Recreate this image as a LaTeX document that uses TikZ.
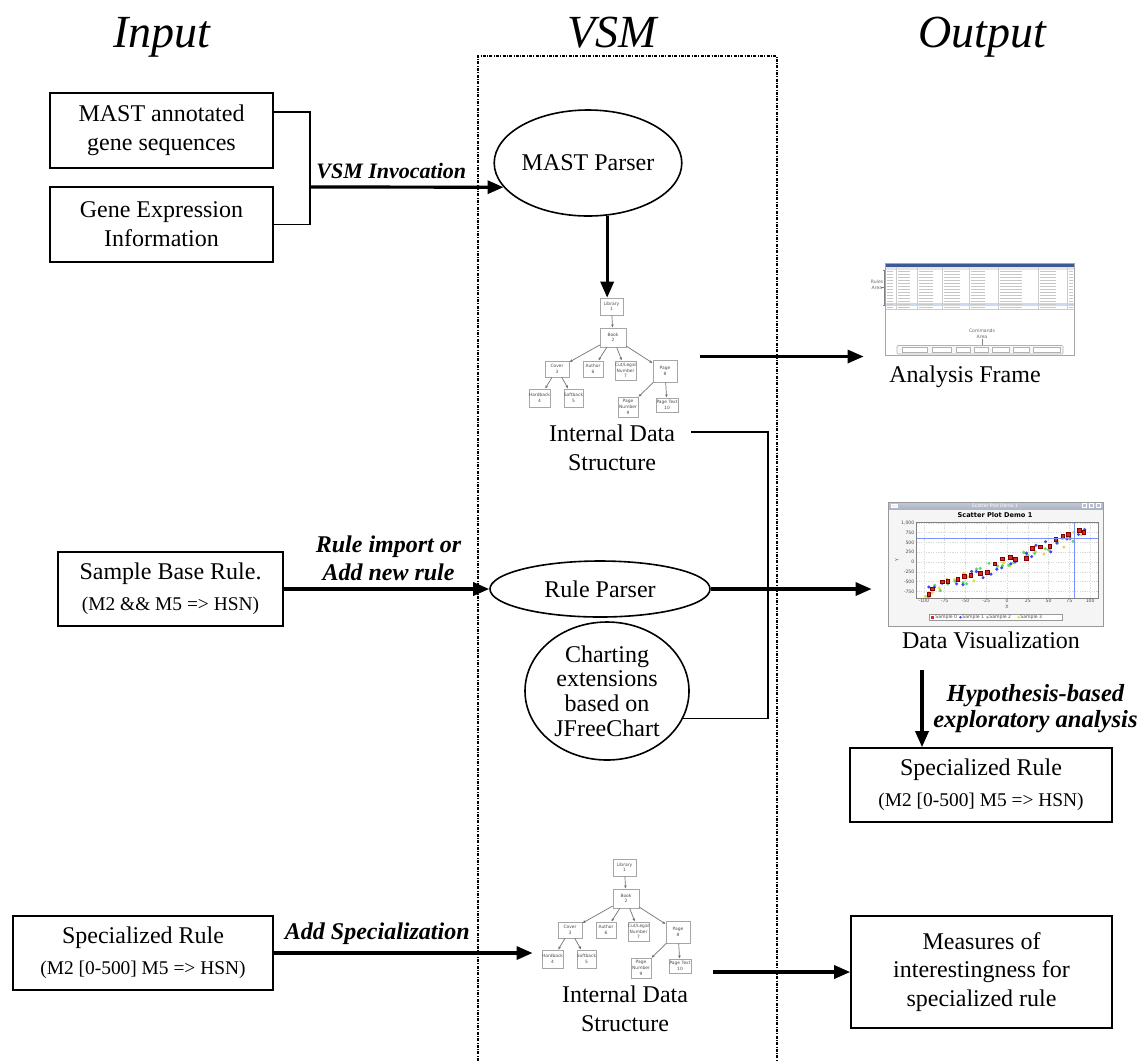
\documentclass[tikz,border=0pt]{standalone}
\usepackage{fontspec}
\setmainfont{Liberation Serif}
\newfontfamily\uifont{DejaVu Sans}
\usepackage{tikz}
\usetikzlibrary{positioning,arrows.meta,shapes.geometric,calc}
\definecolor{winbar}{HTML}{3b5998}
\definecolor{titlegray}{HTML}{a9b3c4}
\definecolor{crossblue}{HTML}{7b93ff}
\definecolor{ptred}{HTML}{d42a2a}
\definecolor{ptblue}{HTML}{3f48f0}
\definecolor{ptgreen}{HTML}{5fd85f}
\definecolor{ptyellow}{HTML}{e6d84a}
\definecolor{rowsel}{HTML}{c9daf2}
\newcommand\rulefont{\fontsize{9.7}{11}\selectfont}

\begin{document}
\begin{tikzpicture}[x=0.5pt,y=-0.5pt,
  font=\fontsize{12}{14.5}\selectfont,
  head/.style={font=\fontsize{23}{26}\selectfont\itshape,anchor=base},
  box/.style={draw,line width=0.8pt,align=center,inner sep=0pt},
  oval/.style={draw,ellipse,line width=0.8pt,align=center,inner sep=0pt},
  lbl/.style={font=\fontsize{12}{14}\selectfont\bfseries\itshape,align=center},
  arr/.style={line width=1.6pt,-{Triangle[length=8pt,width=6.5pt]}},
  link/.style={line width=0.7pt},
  img/.style={inner sep=0pt},
  tbox/.style={draw=black!35,fill=white,line width=0.3pt,inner sep=0pt,align=center,
    text=black!70,font=\uifont\fontsize{2.2}{2.8}\selectfont},
  tedge/.style={draw=black!55,line width=0.35pt,-{Latex[length=1.6pt,width=1.4pt]}},
  tiny/.style={font=\uifont\fontsize{2.3}{2.8}\selectfont,inner sep=0pt}]
\useasboundingbox (0,0) rectangle (1143,1061);

% headings and the VSM frame
\node[head] (hin) at (162,47) {Input};
\node[head] (hvsm) at (612,47) {VSM};
\node[head] (hout) at (982,47) {Output};
\draw[line width=0.6pt,dash pattern=on 1.5pt off 0.7pt on 0.4pt off 0.7pt]
  (478,1061) -- (478,56) -- (777,56) -- (777,1061);

% input side
\node[box,minimum width=111.5pt,minimum height=37.5pt] (mast) at (161.5,130.5) {MAST annotated\\gene sequences};
\node[box,minimum width=111.5pt,minimum height=37.5pt] (gexp) at (161.5,224.5) {Gene Expression\\Information};
\node[box,minimum width=112.5pt,minimum height=37pt] (sample) at (170.5,589)
  {Sample Base Rule.\\[1pt]{\rulefont (M2 \&\& M5 => HSN)}};
\node[box,minimum width=130pt,minimum height=37pt] (specL) at (143,953)
  {Specialized Rule\\[1pt]{\rulefont (M2 [0-500] M5 => HSN)}};

% VSM parts
\node[oval,minimum width=85pt,minimum height=53pt] (mastp) at (588,163) {MAST Parser};
\node[oval,minimum width=110pt,minimum height=28pt] (rulep) at (600,589) {Rule Parser};
\node[oval,minimum width=82pt,minimum height=69pt,font=\fontsize{12}{12.3}\selectfont] (chart) at (607,691)
  {Charting\\extensions\\based on\\JFreeChart};

% the two data structure trees
\foreach \t/\dx/\dy in {a/0/0,b/13/561}{
  \begin{scope}[shift={(\dx,\dy)}]
    \node[img,minimum width=90pt,minimum height=61.5pt] (tree\t) at (610,356.5) {};
    \node[tbox,minimum width=11.5pt,minimum height=8.5pt] (lib\t) at (611.5,306.5) {Library\\1};
    \node[tbox,minimum width=13pt,minimum height=9.5pt] (book\t) at (613,337.5) {Book\\2};
    \node[tbox,minimum width=12pt,minimum height=8pt] (cover\t) at (557,369) {Cover\\3};
    \node[tbox,minimum width=10pt,minimum height=8pt] (author\t) at (593,369) {Author\\6};
    \node[tbox,minimum width=10.5pt,minimum height=9.5pt] (cut\t) at (625.5,370.5) {Cut/Legal\\Number\\7};
    \node[tbox,minimum width=12pt,minimum height=11pt] (page\t) at (665,371) {Page\\8};
    \node[tbox,minimum width=10.5pt,minimum height=9pt] (hard\t) at (539.5,398) {Hardback\\4};
    \node[tbox,minimum width=9.5pt,minimum height=9pt] (soft\t) at (573.5,398) {Softback\\5};
    \node[tbox,minimum width=10pt,minimum height=10pt] (pnum\t) at (628,407) {Page\\Number\\9};
    \node[tbox,minimum width=11pt,minimum height=7pt] (ptext\t) at (667,405) {Page Text\\10};
    \draw[tedge] (lib\t) -- (book\t);
    \draw[tedge] (book\t) -- (cover\t);
    \draw[tedge] (book\t) -- (author\t);
    \draw[tedge] (book\t) -- (cut\t);
    \draw[tedge] (book\t) -- (page\t);
    \draw[tedge] (cover\t) -- (hard\t);
    \draw[tedge] (cover\t) -- (soft\t);
    \draw[tedge] (page\t) -- (pnum\t);
    \draw[tedge] (page\t) -- (ptext\t);
    \node[align=center] (ids\t) at (612,448) {Internal Data\\Structure};
  \end{scope}}

% analysis frame screenshot
\node[img,minimum width=107pt,minimum height=51pt] (afr) at (971,309) {};
\fill[white] (885,263) rectangle (1074,355);
\fill[winbar] (885,263) rectangle (1074,266.5);
\fill[black!10] (885,266.5) rectangle (1074,270);
\fill[rowsel] (885,303) rectangle (1074,306);
\foreach \r in {0,...,12}
  \foreach \c/\w in {886/6,897/12,918/14,943/16,970/14,999/22,1039/16,1068/4}
    \draw[black!22,line width=0.45pt] (\c+1,271.5+\r*3) -- ++(\w,0);
\foreach \c in {896,917,942,969,998,1038,1067}
  \draw[black!20,line width=0.2pt] (\c,266.5) -- (\c,309);
\draw[black!20,line width=0.2pt] (885,309) -- (1074,309);
\draw[black!35,line width=0.3pt] (885,263) rectangle (1074,355);
\node[tiny,align=center,text=black!60] (rarea) at (877,285) {Rules\\Area};
\draw[black!50,line width=0.2pt] (883,270) -- (884.5,270) -- (884.5,305) -- (883,305);
\draw[black!50,line width=0.2pt] (881,287) -- (884.5,287);
\node[tiny,align=center,text=black!60] (carea) at (982,334) {Commands\\Area};
\draw[black!50,line width=0.2pt] (carea.south) -- (982,345.5);
\draw[black!30,line width=0.3pt,rounded corners=0.5pt,fill=black!3] (897,345.5) rectangle (1063,354);
\foreach \a/\b in {902/927,932/951,956/970,974/988,992/1009,1013/1029,1033/1060}
  \draw[black!30,line width=0.25pt,fill=white] (\a,347) rectangle (\b,352.5);
\node (aflbl) at (965,377) {Analysis Frame};

% scatter plot screenshot
\node[img,minimum width=117pt,minimum height=66pt] (scat) at (989,564) {};
\fill[black!4] (888,502) rectangle (1103,626);
\shade[top color=titlegray!70,bottom color=titlegray] (888,502) rectangle (1103,509.5);
\node[tiny,text=white] (sbar) at (995,505.8) {Scatter Plot Demo 1};
\foreach \bx in {1082,1089,1096}
  \draw[white,line width=0.3pt] (\bx,503.5) rectangle ++(4.5,4);
\draw[white,fill=white!80!titlegray,line width=0.3pt] (891,504) rectangle (897,507.5);
\draw[black!40,line width=0.3pt] (888,502) rectangle (1103,626);
\node[font=\uifont\bfseries\fontsize{3.3}{4}\selectfont,inner sep=0pt] (stitle) at (995,515) {Scatter Plot Demo 1};
\fill[white] (916,522) rectangle (1098,598);
\begin{scope}[shift={(1007,562)},x=0.4157pt,y=0.01965pt]
  \foreach \gx in {-100,-75,...,100}
    \draw[black!15,line width=0.2pt,dash pattern=on 0.6pt off 0.6pt] (\gx,-920) -- (\gx,1010);
  \foreach \gy in {-750,-500,...,1000}
    \draw[black!15,line width=0.2pt,dash pattern=on 0.6pt off 0.6pt] (-109,\gy) -- (110,\gy);
  \pgfmathsetseed{23}
  \foreach \n in {0,...,23}{
    \pgfmathsetmacro\xv{-95+\n*8.1+rand*3}
    \pgfmathsetmacro\yv{8*\xv+rand*170}
    \fill[ptyellow] (\xv,\yv) circle (0.85pt);}
  \foreach \n in {0,...,23}{
    \pgfmathsetmacro\xv{-97+\n*8.3+rand*3}
    \pgfmathsetmacro\yv{8*\xv+rand*170}
    \fill[ptgreen] (\xv,\yv) circle (0.85pt);}
  \foreach \n in {0,...,23}{
    \pgfmathsetmacro\xv{-94+\n*8.2+rand*3}
    \pgfmathsetmacro\yv{8*\xv+rand*170}
    \fill[ptblue] (\xv,\yv) circle (0.85pt);}
  \foreach \n in {0,...,21}{
    \pgfmathsetmacro\xv{-97+\n*9.1+rand*3}
    \pgfmathsetmacro\yv{8*\xv+rand*130}
    \filldraw[fill=ptred,draw=red!50!black,line width=0.15pt] (\xv,\yv) ++(-0.9pt,-0.9pt) rectangle ++(1.8pt,1.8pt);}
  \draw[crossblue,line width=0.45pt] (80.6,-920) -- (80.6,1010);
  \draw[crossblue,line width=0.45pt] (-109,610) -- (110,610);
  \foreach \gx in {-100,-75,...,100}
    \node[tiny,text=black!70] at (\gx,-1000) {\gx};
  \foreach \gy/\gl in {1000/{1,000},750/750,500/500,250/250,0/0,-250/-250,-500/-500,-750/-750}
    \node[tiny,text=black!70,anchor=east] at (-111,\gy) {\gl};
\end{scope}
\draw[black!50,line width=0.3pt] (916,522) rectangle (1098,598);
\node[tiny,text=black!70] (xlab) at (1007,607) {X};
\node[tiny,text=black!70,rotate=90] (ylab) at (897,560) {Y};
\draw[black!40,line width=0.25pt,fill=white] (929,614) rectangle (1062,620.5);
\foreach \lx/\ls in {933/0,960/1,987/2,1018/3}
  \node[tiny,anchor=west,text=black!70] at (\lx+2,617.3) {Sample \ls};
\fill[ptred] (931.3,615.8) rectangle (933.7,618.8);
\fill[ptblue] (960.5,617.3) circle (0.7pt);
\fill[ptgreen] (987.5,617.3) circle (0.7pt);
\fill[ptyellow] (1018.5,617.3) circle (0.7pt);
\node (dvlbl) at (991,640) {Data Visualization};

% output side
\node[box,minimum width=131pt,minimum height=37pt] (specR) at (981,785)
  {Specialized Rule\\[1pt]{\rulefont (M2 [0-500] M5 => HSN)}};
\node[box,minimum width=130.5pt,minimum height=56pt,font=\fontsize{12}{14.3}\selectfont] (measures) at (981.5,972)
  {Measures of\\interestingness for\\specialized rule};

% connectors
\coordinate (join) at (310,187);
\coordinate (bend) at (768,0);
\coordinate (hyp) at (922,670);
\draw[link] ($(mast.east)+(0,-18.5)$) -| (join) |- (gexp.east);
\draw[arr] (join) -- node[lbl,above,pos=0.42,font=\fontsize{11}{13}\selectfont\bfseries\itshape] {VSM Invocation} (mastp.196.5);
\draw[arr] (mastp.-70) -- (mastp.-70 |- liba.north);
\draw[arr] (treea.east) -- (treea.east -| afr.west);
\draw[link] ($(idsa.east)+(9,-16)$) -- ($(idsa.east -| bend)+(0,-16)$) |- (chart.-20);
\draw[arr] (sample) -- node[lbl,above,pos=0.51] {Rule import or\\Add new rule} (rulep);
\draw[arr] (rulep.east) -- (rulep.east -| scat.west);
\draw[arr] (hyp) -- node[lbl,right=1.5pt,font=\fontsize{12.3}{12.8}\selectfont\bfseries\itshape]
  {Hypothesis-based\\exploratory analysis} (hyp |- specR.north);
\draw[arr] (specL.east) -- node[lbl,above,pos=0.4] {Add Specialization} (specL.east -| treeb.west);
\draw[arr] (measures.west -| treeb.east) -- (measures.west);
\end{tikzpicture}
\end{document}
